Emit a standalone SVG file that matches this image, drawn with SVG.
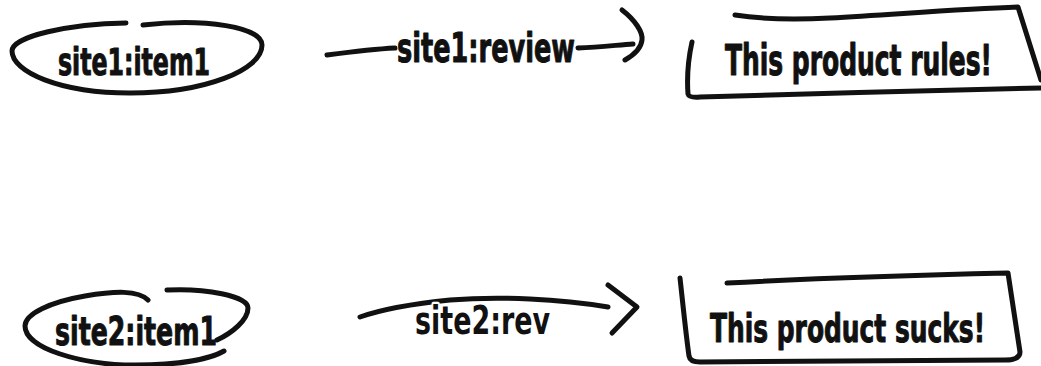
<svg xmlns="http://www.w3.org/2000/svg" width="1041" height="366" viewBox="0 0 1041 366">
  <style>
    .ink { fill: none; stroke: #111; stroke-width: 5; stroke-linecap: round; stroke-linejoin: round; }
    .lbl { font-family: "DejaVu Sans Condensed", "DejaVu Sans", sans-serif; font-weight: bold; fill: #111; stroke: #111; stroke-width: 0.7; stroke-linejoin: round; }
    .halo { stroke: #fff; stroke-width: 3.5; paint-order: stroke; }
  </style>
  <rect width="1041" height="366" fill="#fff"/>

  <!-- connectors -->
  <g id="connectors">
    <g id="edge-site1-review">
      <path class="ink" d="M327,55 C 350,52 375,49 395,48"/>
      <path class="ink" d="M578,48 C 600,47 618,45 633,44"/>
      <path class="ink" d="M622,10 C 635,20 643,32 642,40 C 641,50 632,56 625,60"/>
      <text class="lbl" transform="translate(397,62) scale(1,1.41)" font-size="28.4" textLength="178" lengthAdjust="spacingAndGlyphs">site1:review</text>
    </g>
    <g id="edge-site2-rev">
      <path class="ink" d="M360,317 C 380,310 410,304 450,300 C 500,296 560,299 608,307"/>
      <path class="ink" d="M608,285 L 637,307 L 612,333"/>
      <text class="lbl halo" transform="translate(415,334) scale(1,1.30)" font-size="29.9" textLength="135" lengthAdjust="spacingAndGlyphs">site2:rev</text>
    </g>
  </g>

  <!-- subject 1 -->
  <g id="node-site1-item1">
    <path class="ink" d="M126,23 C 70,24 12,36 12,51 C 12,72 60,93 130,93 C 205,93 262,70 262,45 C 262,27 205,18 143,25"/>
    <text class="lbl" transform="translate(58,75) scale(1,1.41)" font-size="26.3" textLength="152" lengthAdjust="spacingAndGlyphs">site1:item1</text>
  </g>

  <!-- value 1 -->
  <g id="node-rules">
    <path class="ink" d="M735,15 C 760,19 790,20 830,18 C 900,14 960,9 1018,7 L 1041,80"/>
    <path class="ink" d="M692,42 C 688,60 687,80 688,94 Q 689,98 700,97 C 800,94 950,90 1041,88"/>
    <text class="lbl" transform="translate(725,75) scale(1,1.55)" font-size="27.8" textLength="267" lengthAdjust="spacingAndGlyphs">This product rules!</text>
  </g>

  <!-- subject 2 -->
  <g id="node-site2-item1">
    <path class="ink" d="M148,300 C 138,290 115,291 85,296 C 50,302 25,314 25,326 C 25,348 80,365 135,365 C 180,365 210,359 224,351"/>
    <path class="ink" d="M167,290 C 205,288 248,296 248,308 C 248,320 232,333 217,340"/>
    <text class="lbl" transform="translate(55,345) scale(1,1.39)" font-size="28" textLength="162" lengthAdjust="spacingAndGlyphs">site2:item1</text>
  </g>

  <!-- value 2 -->
  <g id="node-sucks">
    <path class="ink" d="M727,283 C 820,278 920,275 1008,273 L 1020,352 Q 1020,360 1005,360 L 700,362 Q 690,362 689,356 C 686,335 683,305 680,278"/>
    <text class="lbl" transform="translate(710,342) scale(1,1.41)" font-size="27.7" textLength="275" lengthAdjust="spacingAndGlyphs">This product sucks!</text>
  </g>
</svg>
